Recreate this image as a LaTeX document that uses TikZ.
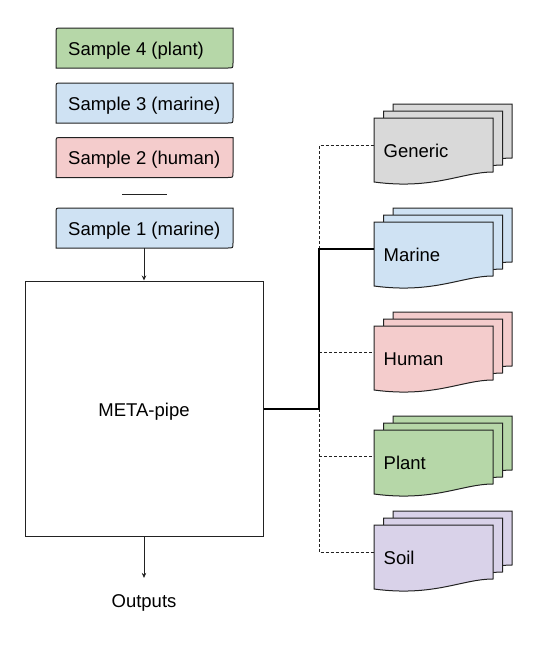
\documentclass[tikz,border=0pt]{standalone}
\usepackage{fontspec}
\setmainfont{Liberation Sans}
\usetikzlibrary{arrows.meta,calc}
\definecolor{cgreen}{HTML}{B6D7A8}
\definecolor{cblue}{HTML}{CFE2F3}
\definecolor{cred}{HTML}{F4CCCC}
\definecolor{cgrey}{HTML}{D9D9D9}
\definecolor{cpurple}{HTML}{D9D2E9}
\definecolor{cline}{HTML}{222222}
\tikzset{
  boxline/.style={draw=cline,line width=1pt},
  smptext/.style={anchor=west,inner sep=0pt,text height=14pt,text depth=0pt},
  doctext/.style={anchor=north west,minimum width=119pt,minimum height=64pt,text width=110pt,inner xsep=9.5pt,inner ysep=0pt,align=left,text height=15pt,text depth=0pt},
  arr/.style={draw=cline,line width=1pt,-{Stealth[length=5pt,width=4.5pt]}},
  thickline/.style={draw=black,line width=2pt},
  dashline/.style={draw=cline,line width=1pt,dash pattern=on 3pt off 2pt},
}
% name, center y, colour, text
\newcommand\sample[4]{%
  \draw[boxline,fill=#3] (56,#2+20) -- (56,#2-15) .. controls (56,#2-20) .. (61,#2-20) -- (233,#2-20) -- (233,#2+15) .. controls (233,#2+20) .. (228,#2+20) -- cycle;
  \node[smptext] (#1) at (68,#2) {#4};}
\newcommand\onedoc[3]{%
  \draw[boxline,fill=#3,shift={(#1,#2)}] (0,0) -- (119,0) -- (119,54) .. controls (88,54) and (60,72) .. (0,64) -- cycle;}
\newcommand\docstack[5]{%
  \onedoc{#2+19}{#3-14}{#4}
  \onedoc{#2+9.5}{#3-7}{#4}
  \onedoc{#2}{#3}{#4}
  \node[doctext] (#1) at (#2,#3) {#5};}
\begin{document}
\begin{tikzpicture}[x={(1pt,0)},y={(0,-1pt)},font=\fontsize{18.5}{22}\selectfont]
\useasboundingbox[fill=white] (0,0) rectangle (546,645);
% samples
\sample{s4}{48}{cgreen}{Sample 4 (plant)}
\sample{s3}{103}{cblue}{Sample 3 (marine)}
\sample{s2}{157.5}{cred}{Sample 2 (human)}
\sample{s1}{228}{cblue}{Sample 1 (marine)}
\draw[boxline] (122,194) -- (167,194);
% main box
\node[boxline,minimum width=238pt,minimum height=255pt,text height=15pt,text depth=0pt,inner sep=0pt] (meta) at (144,408.5) {META-pipe};
\node[anchor=base,inner sep=0pt] (out) at (144,607) {Outputs};
\coordinate (s1bot) at (144,248);
\coordinate (outtop) at ([yshift=16pt]out.north);
\draw[arr] (s1bot) -- (s1bot |- meta.north);
\draw[arr] (meta.south) -- (meta.south |- outtop);
% documents
\docstack{gen}{374}{118}{cgrey}{Generic}
\docstack{mar}{374}{222}{cblue}{Marine}
\docstack{hum}{374}{326}{cred}{Human}
\docstack{pla}{374}{430}{cgreen}{Plant}
\docstack{soi}{374}{525}{cpurple}{Soil}
\coordinate (bus) at (319,0);
\coordinate (genpt) at ([yshift=-27pt]gen.north west);
\coordinate (marpt) at ([yshift=-27pt]mar.north west);
\coordinate (humpt) at ([yshift=-26pt]hum.north west);
\coordinate (plapt) at ([yshift=-26pt]pla.north west);
\coordinate (soipt) at ([yshift=-27pt]soi.north west);
\draw[dashline] (meta.east -| bus) |- (genpt);
\draw[dashline] (meta.east -| bus) |- (soipt);
\draw[dashline] (bus |- humpt) -- (humpt);
\draw[dashline] (bus |- plapt) -- (plapt);
\draw[thickline] (meta.east) -- (meta.east -| bus) |- (marpt);
\end{tikzpicture}
\end{document}
